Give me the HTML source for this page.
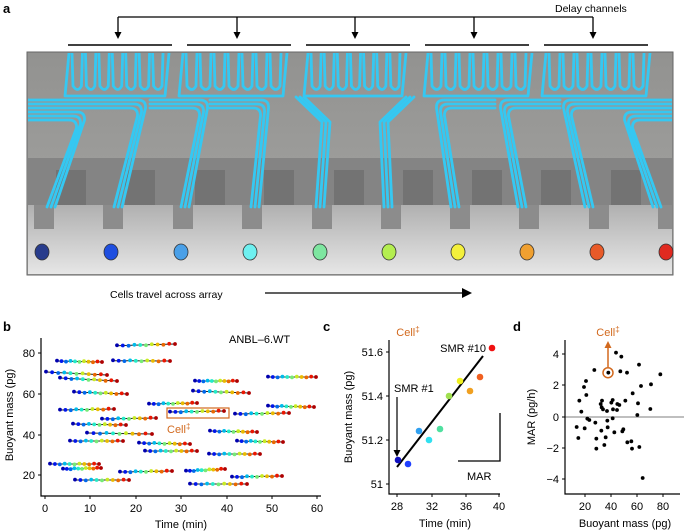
<!DOCTYPE html>
<html><head><meta charset="utf-8"><style>
html,body{margin:0;padding:0;background:#fff}
svg{display:block;font-family:"Liberation Sans",sans-serif}
</style></head><body>
<svg id="s" width="684" height="532" viewBox="0 0 684 532">
<defs>
<linearGradient id="gtop" x1="0" y1="0" x2="0" y2="1">
<stop offset="0" stop-color="#929290"/><stop offset="1" stop-color="#a6a6a4"/></linearGradient>
<linearGradient id="gbot" x1="0" y1="0" x2="0" y2="1">
<stop offset="0" stop-color="#b0b0b0"/><stop offset="1" stop-color="#e6e6e6"/></linearGradient>
<clipPath id="box"><rect x="28" y="53" width="644" height="221"/></clipPath>
</defs>
<g id="pa">
<text x="3" y="13" font-size="13" font-weight="bold">a</text>
<text x="555" y="12" font-size="10.5">Delay channels</text>
<path d="M118 17 H593" stroke="#000" stroke-width="1.3"/>
<rect x="27" y="52" width="646" height="223" fill="url(#gtop)" stroke="#666" stroke-width="1"/>
<rect x="28" y="158" width="644" height="47" fill="#848484"/>
<rect x="28" y="205" width="644" height="69" fill="url(#gbot)"/>
</g>
<g clip-path="url(#box)">
<g id="steps"></g>
<g id="chan" fill="none" stroke="#35c8f2" stroke-width="2.8" stroke-linecap="round" stroke-linejoin="round"></g>
</g>
<g id="pa2"></g>
<text x="110" y="298" font-size="10.5">Cells travel across array</text>
<path d="M265 293 H462" stroke="#000" stroke-width="1.3"/>
<path d="M462 288 L472 293 L462 298 Z" fill="#000"/>

<text x="3" y="331" font-size="13" font-weight="bold">b</text>
<g id="pb"></g>
<path d="M41 338 V496 H321" stroke="#000" stroke-width="1.2" fill="none"/>
<text x="229" y="343" font-size="11">ANBL–6.WT</text>
<rect x="167" y="408" width="62" height="10" fill="none" stroke="#d2691e" stroke-width="1.2"/>
<text x="167" y="433" font-size="11" fill="#d2691e">Cell<tspan font-size="8" dy="-4">‡</tspan></text>
<text transform="translate(13,415) rotate(-90)" font-size="11" text-anchor="middle">Buoyant mass (pg)</text>
<text x="181" y="528" font-size="11" text-anchor="middle">Time (min)</text>

<text x="323" y="331" font-size="13" font-weight="bold">c</text>
<path d="M389 340 V494 H500" stroke="#000" stroke-width="1.2" fill="none"/>
<text x="408" y="336" font-size="11" fill="#d2691e" text-anchor="middle">Cell<tspan font-size="8" dy="-4">‡</tspan></text>
<path d="M397 467 L483 356" stroke="#000" stroke-width="2"/>
<text x="486" y="352" font-size="11" text-anchor="end">SMR #10</text>
<text x="394" y="392" font-size="11">SMR #1</text>
<path d="M397 397 V452" stroke="#000" stroke-width="1.2"/>
<path d="M393.5 450 L397 457 L400.5 450 Z" fill="#000"/>
<path d="M458 461 H500 V413" stroke="#000" stroke-width="1.3" fill="none"/>
<text x="467" y="480" font-size="11">MAR</text>
<text transform="translate(352,417) rotate(-90)" font-size="11" text-anchor="middle">Buoyant mass (pg)</text>
<text x="445" y="527" font-size="11" text-anchor="middle">Time (min)</text>
<g id="pc"></g>

<text x="513" y="331" font-size="13" font-weight="bold">d</text>
<path d="M565 417 H684" stroke="#999" stroke-width="1.2"/>
<path d="M565 340 V494 H680" stroke="#000" stroke-width="1.2" fill="none"/>
<text x="608" y="336" font-size="11" fill="#d2691e" text-anchor="middle">Cell<tspan font-size="8" dy="-4">‡</tspan></text>
<path d="M608 367 V346" stroke="#d2691e" stroke-width="1.5"/>
<path d="M604.5 348 L608 341 L611.5 348 Z" fill="#d2691e"/>
<circle cx="608" cy="372.7" r="5" fill="none" stroke="#d2691e" stroke-width="1.5"/>
<text transform="translate(535,417) rotate(-90)" font-size="11" text-anchor="middle">MAR (pg/h)</text>
<text x="625" y="527" font-size="11" text-anchor="middle">Buoyant mass (pg)</text>
<g id="pd"></g>
</svg>
<script>
const NS="http://www.w3.org/2000/svg";
function el(p,t,a,txt){const e=document.createElementNS(NS,t);for(const k in a)e.setAttribute(k,a[k]);if(txt!=null)e.textContent=txt;document.getElementById(p).appendChild(e);return e;}
function jet(v){const c=x=>Math.round(235*Math.max(0,Math.min(1,x)));
return `rgb(${c(1.5-Math.abs(4*v-3))},${c(1.5-Math.abs(4*v-2))},${c(1.5-Math.abs(4*v-1))})`;}
const bars=[[68,172],[187,291],[306,410],[425,529],[544,648]];
const gc=[118,237,355,474,593];
gc.forEach(x=>{el("pa2","path",{d:`M${x} 17 V33`,stroke:"#000","stroke-width":1.3});el("pa2","path",{d:`M${x-3.5} 32 L${x} 39 L${x+3.5} 32 Z`,fill:"#000"});});
bars.forEach(b=>el("pa2","path",{d:`M${b[0]} 45 H${b[1]}`,stroke:"#000","stroke-width":1.5}));
const cx=[42,111,181,250,320,389,458,527,597,666];
const cols=["#283c8c","#1f4fe0","#4aa0e8","#6ef0f0","#7ee6a0","#b4ee50","#f4f03c","#f0a030","#e85a28","#e02a20"];
for(let i=0;i<10;i++){el("steps","rect",{x:cx[i]+14,y:170,width:30,height:35,fill:"#737373"});}
cx.forEach((x,i)=>{el("steps","rect",{x:x-8,y:205,width:20,height:24,fill:"#8c8c8c"});});
const grp=[[69,163],[183,281],[308,400],[428,526],[546,644]];
grp.forEach(g=>{const n=7,w=(g[1]-g[0])/n;
 for(let j=0;j<n;j++){const x0=g[0]+j*w+3;el("chan","path",{d:`M${x0} 53 L${x0+1} 86 Q${x0+w/2-1} 93 ${x0+w-4} 86 L${x0+w-3} 53`});}
 el("chan","path",{d:`M${g[0]} 53 L${g[0]-4} 96 L${g[1]+2} 96 L${g[1]+6} 53`});});
const L=[[28,112,85,51],[28,100,146,118],[150,100,208,185],[210,100,269,255]];
L.forEach(s=>{for(let k=0;k<3;k++){const o=k*4,y=s[1]+o,xc=s[2]-o,r=8;
 el("chan","path",{d:`M${s[0]} ${y} H${xc-r} Q${xc} ${y} ${xc-0.5} ${y+r} L${s[3]-o+4} 207`});}});
const R=[[495,100,436,455],[560,100,500,522],[672,100,563,589],[672,112,624,657]];
R.forEach(s=>{for(let k=0;k<3;k++){const o=k*4,y=s[1]+o,xc=s[2]+o,r=8;
 el("chan","path",{d:`M${s[0]} ${y} H${xc+r} Q${xc} ${y} ${xc+0.5} ${y+r} L${s[3]+o-4} 207`});}});
for(let k=0;k<3;k++){const o=k*4;
 el("chan","path",{d:`M${296+o} 97 L${322+o} 122 L${316+o} 207`});
 el("chan","path",{d:`M${414-o} 97 L${388-o} 122 L${392-o} 207`});}
cx.forEach((x,i)=>el("pa2","ellipse",{cx:x,cy:252,rx:7,ry:8,fill:cols[i],stroke:"#333","stroke-width":0.8}));
const segs=[[117,175,345.7,344],[57,102,361,362],[113,170,360.7,361],[46,107,372,375],[60,117,378,381],[74,127,392,394],[60,114,410,409],[102,156,419,418],[73,126,424,425],[87,152,433,434],[70,123,441,441],[139,190,443,444],[145,197,451,451],[50,99,464,464],[63,101,469,468],[75,129,480,480],[120,172,472,471],[186,225,471,469],[190,247,484,484],[149,197,404,403],[170,224,412,411],[195,237,381,381],[193,249,391,393],[268,316,377,377],[268,314,406,407],[235,289,414,413],[210,257,431,432],[237,283,441,442],[209,260,454,454],[232,282,477,476]];
segs.forEach(s=>{el("pb","line",{x1:s[0],y1:s[2],x2:s[1],y2:s[3],stroke:"#222","stroke-width":1});
 const n=11;for(let j=0;j<n;j++){const t=j/(n-1);el("pb","circle",{cx:s[0]+t*(s[1]-s[0]),cy:s[2]+t*(s[3]-s[2])+(j%3-1)*0.4,r:1.9,fill:jet(0.06+t*0.88)});}});
[[353,80],[394,60],[435,40],[475,20]].forEach(a=>{el("pb","path",{d:`M38 ${a[0]} H41`,stroke:"#000"});el("pb","text",{x:35,y:a[0]+4,"font-size":11,"text-anchor":"end"},a[1]);});
[[45,0],[90,10],[136,20],[181,30],[227,40],[272,50],[317,60]].forEach(a=>{el("pb","path",{d:`M${a[0]} 496 V499`,stroke:"#000"});el("pb","text",{x:a[0],y:512,"font-size":11,"text-anchor":"middle"},a[1]);});
const pc=[[398,460],[408,464],[419,431],[429,440],[440,429],[449,396],[460,381],[470,391],[480,377],[492,348]];
const cc=["#1010c0","#2040ff","#30a0f0","#30e0f0","#50e0a0","#a0e050","#f0f020","#f0a020","#f06020","#f01010"];
pc.forEach((p,i)=>el("pc","circle",{cx:p[0],cy:p[1],r:3.3,fill:cc[i]}));
[[352,"51.6"],[396,"51.4"],[440,"51.2"],[484,"51"]].forEach(a=>{el("pc","path",{d:`M386 ${a[0]} H389`,stroke:"#000"});el("pc","text",{x:383,y:a[0]+4,"font-size":11,"text-anchor":"end"},a[1]);});
[[397,28],[432,32],[466,36],[499,40]].forEach(a=>{el("pc","path",{d:`M${a[0]} 494 V497`,stroke:"#000"});el("pc","text",{x:a[0],y:510,"font-size":11,"text-anchor":"middle"},a[1]);});
const pd=[[168,68],[184,80],[103,120],[145,128],[181,124],[201,128],[237,104],[301,133],[78,153],[72,171],[79,195],[58,212],[64,245],[243,168],[273,163],[218,190],[126,212],[158,210],[122,222],[154,218],[172,222],[178,225],[196,212],[234,220],[125,232],[129,238],[141,243],[159,238],[171,240],[271,237],[232,255],[82,266],[88,270],[106,278],[142,272],[158,265],[50,291],[74,295],[143,292],[124,302],[190,298],[187,304],[163,307],[55,324],[109,326],[137,322],[202,337],[214,334],[133,345],[109,356],[238,351],[216,356],[248,444]];
pd.forEach(p=>el("pd","circle",{cx:560+p[0]/3,cy:330+p[1]/3,r:1.9,fill:"#000"}));
[[354,"4"],[385,"2"],[417,"0"],[448,"−2"],[479,"−4"]].forEach(a=>{el("pd","path",{d:`M562 ${a[0]} H565`,stroke:"#000"});el("pd","text",{x:559,y:a[0]+4,"font-size":11,"text-anchor":"end"},a[1]);});
[[585,20],[611,40],[637,60],[663,80]].forEach(a=>{el("pd","path",{d:`M${a[0]} 494 V497`,stroke:"#000"});el("pd","text",{x:a[0],y:510,"font-size":11,"text-anchor":"middle"},a[1]);});
</script>
</body></html>
